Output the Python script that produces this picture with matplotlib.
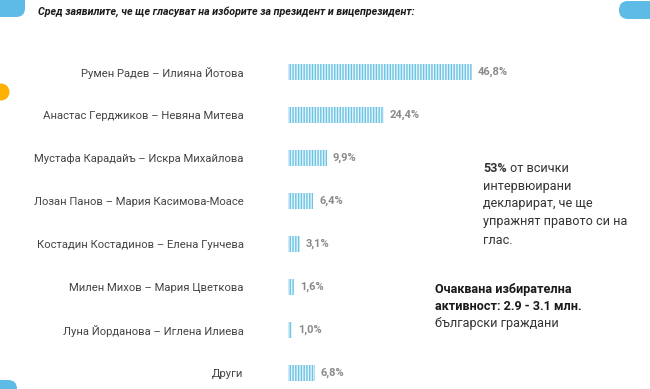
import matplotlib

matplotlib.use("Agg")
import matplotlib.pyplot as plt
from matplotlib.patches import FancyBboxPatch, Circle

W, H = 650, 389
BLUE, ORANGE = "#5dbbe6", "#fdb100"
STRIPE, TINT = "#6cc4e4", "#e6f5fb"
INK, LABEL, VALUE = "#1a1a1a", "#444444", "#8a8a8a"

pairs = [
    "Румен Радев – Илияна Йотова",
    "Анастас Герджиков – Невяна Митева",
    "Мустафа Карадайъ – Искра Михайлова",
    "Лозан Панов – Мария Касимова-Моасе",
    "Костадин Костадинов – Елена Гунчева",
    "Милен Михов – Мария Цветкова",
    "Луна Йорданова – Иглена Илиева",
    "Други",
]
shares = [46.8, 24.4, 9.9, 6.4, 3.1, 1.6, 1.0, 6.8]

title = "Сред заявилите, че ще гласуват на изборите за президент и вицепрезидент:"
note1_bold = "53%"
note1 = ["от всички", "интервюирани", "декларират, че ще",
         "упражнят правото си на", "глас."]
note2_bold = ["Очаквана избирателна", "активност: 2.9 - 3.1 млн."]
note2 = "български граждани"

plt.rcParams.update({"font.family": ["Roboto", "DejaVu Sans"],
                     "hatch.linewidth": 1.0})


def px(x, y):
    return x / W, 1 - y / H


fig = plt.figure(figsize=(W / 100, H / 100), dpi=100)
fig.patch.set_facecolor("white")

# bar axes: value 0 at x=288px, ~3.93px per percent, rows 43px apart from y=72
x0, x1 = 288, 288 + 3.93 * 50
ytop, ybot = 50.5, 389
ax = fig.add_axes([x0 / W, 1 - ybot / H, (x1 - x0) / W, (ybot - ytop) / H])
ax.set_xlim(0, 50)
ax.set_ylim((ybot - 72) / 43, -0.5)
ax.barh(range(len(shares)), shares, height=0.35, color=TINT,
        edgecolor=STRIPE, linewidth=0, hatch="|" * 6)
for i, v in enumerate(shares):
    ax.text(v + 1.5, i, f"{v:.1f}%".replace(".", ","), va="center",
            ha="left", fontsize=8, fontweight="bold", color=VALUE)
ax.set_yticks(range(len(pairs)), pairs)
ax.tick_params(axis="y", length=0, pad=32, labelsize=8.1, labelcolor=LABEL)
ax.set_xticks([])
for s in ax.spines.values():
    s.set_visible(False)
ax.patch.set_alpha(0)

# title
fig.text(*px(38, 12), title, fontsize=7.7, fontweight="bold",
         fontstyle="italic", color=INK, va="center", ha="left")

# side notes
fig.text(*px(483, 168), note1_bold, fontsize=9.1, fontweight="bold",
         color="#333333", va="center")
for k, line in enumerate(note1):
    fig.text(*px(510 if k == 0 else 483, 168 + 18 * k), line, fontsize=9.1,
             color="#333333", va="center")
for k, line in enumerate(note2_bold):
    fig.text(*px(435, 290 + 17 * k), line, fontsize=9.1, fontweight="bold",
             color="#1a1a1a", va="center")
fig.text(*px(435, 324), note2, fontsize=9.1, color="#333333", va="center")

# decorative shapes (pixel coordinates on a full-figure overlay)
deco = fig.add_axes([0, 0, 1, 1], zorder=-1)
deco.set_xlim(0, W)
deco.set_ylim(H, 0)
deco.axis("off")
deco.add_patch(FancyBboxPatch((-20, -10), 45, 27, boxstyle="round,pad=0,rounding_size=9",
                              color=BLUE, lw=0))
deco.add_patch(FancyBboxPatch((619, 1), 60, 18, boxstyle="round,pad=0,rounding_size=9",
                              color=BLUE, lw=0))
deco.add_patch(FancyBboxPatch((-20, 380), 37, 30, boxstyle="round,pad=0,rounding_size=9",
                              color=BLUE, lw=0))
deco.add_patch(Circle((1, 92), 8.5, color=ORANGE, lw=0))

fig.savefig("out.png", dpi=100)
